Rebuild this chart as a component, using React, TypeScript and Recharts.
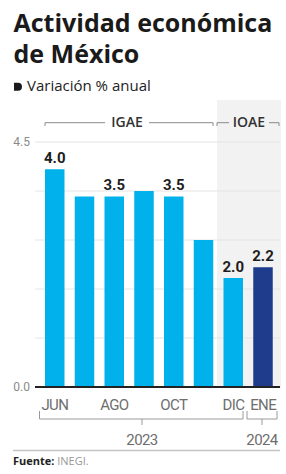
import React from 'react';
import { BarChart, Bar, XAxis, YAxis, CartesianGrid, Cell, LabelList } from 'recharts';

const months = ['JUN', 'JUL', 'AGO', 'SEP', 'OCT', 'NOV', 'DIC', 'ENE'];
const values = [4.0, 3.5, 3.5, 3.6, 3.5, 2.7, 2.0, 2.2];
const valueLabels = ['4.0', '', '3.5', '', '3.5', '', '2.0', '2.2'];
const shownMonths = ['JUN', 'AGO', 'OCT', 'DIC', 'ENE'];
const barColors = ['#00b1eb', '#00b1eb', '#00b1eb', '#00b1eb', '#00b1eb', '#00b1eb', '#00b1eb', '#1f3c8c'];
const yTicks = [0, 0.9, 1.8, 2.7, 3.6, 4.5];
const yTickLabels = ['0.0', '', '', '', '', '4.5'];
const yearLabels = ['2023', '2024'];
const groupLabels = ['IGAE', 'IOAE'];

const data = months.map((m, i) => ({ month: m, value: values[i], label: valueLabels[i] }));

const XTick = (props: any) => {
  const { x, y, payload } = props;
  const show = shownMonths.includes(payload.value);
  if (!show) return null;
  return (
    <text x={x} y={y} dy={15} textAnchor="middle" fontFamily="Roboto" fontSize={15} fill="#6e6e6e" letterSpacing={-0.6}>
      {payload.value}
    </text>
  );
};

const ValueLabel = (props: any) => {
  const { x, y, width, index } = props;
  const t = valueLabels[index];
  if (!t) return null;
  return (
    <text x={x + width / 2} y={y - 6} textAnchor="middle" fontFamily="Roboto" fontWeight={700} fontSize={15} fill="#1e1e1e">
      {t}
    </text>
  );
};

export default function App() {
  return (
    <div style={{ position: 'absolute', left: 0, top: 0, width: 286, height: 474, background: '#ffffff', overflow: 'hidden' }}>
      <div style={{ position: 'absolute', left: 217, top: 100, width: 64, height: 288, background: '#f2f2f2' }} />
      <div style={{ position: 'absolute', left: 0, top: 0 }}>
        <BarChart width={286} height={474} data={data} margin={{ top: 142, right: 6, bottom: 57, left: 0 }}>
          <CartesianGrid vertical={false} stroke="#e4e4e4" strokeWidth={1} />
          <YAxis
            width={35}
            domain={[0, 4.5]}
            ticks={yTicks}
            interval={0}
            axisLine={false}
            tickLine={false}
            tickSize={3}
            tickMargin={2}
            tickFormatter={(v: number, i: number) => yTickLabels[i]}
            tick={{ fontFamily: 'Roboto', fontSize: 12, fill: '#8a8a8a' }}
          />
          <XAxis
            dataKey="month"
            height={30}
            interval={0}
            padding={{ left: 5, right: 2 }}
            axisLine={{ stroke: '#222222', strokeWidth: 2 }}
            tickLine={false}
            tick={<XTick />}
          />
          <Bar dataKey="value" barSize={19.5} isAnimationActive={false}>
            {data.map((d, i) => (
              <Cell key={d.month} fill={barColors[i]} />
            ))}
            <LabelList dataKey="label" content={<ValueLabel />} />
          </Bar>
        </BarChart>
      </div>
      <svg width={286} height={474} style={{ position: 'absolute', left: 0, top: 0, pointerEvents: 'none' }}>
        <text x={13.5} y={31.7} fontFamily="Open Sans" fontWeight={700} fontSize={25} fill="#1a1a1a">Actividad económica</text>
        <text x={13.5} y={63.3} fontFamily="Open Sans" fontWeight={700} fontSize={25} fill="#1a1a1a">de México</text>
        <path d="M14,82.7 h4 a4,4 0 0 1 0,8 h-4 z" fill="#1a1a1a" />
        <text x={27} y={90.7} fontFamily="Open Sans" fontSize={15} fill="#222">Variación % anual</text>

        <g stroke="#8a8a8a" strokeWidth={1} fill="none">
          <path d="M45,126 V122.7 H105" />
          <path d="M149,122.7 H213 V126" />
          <path d="M217,126 V122.7 H229" />
          <path d="M269,122.7 H279 V126" />
        </g>
        <text x={127} y={126.7} textAnchor="middle" fontFamily="Open Sans" fontWeight={600} fontSize={14} fill="#333">{groupLabels[0]}</text>
        <text x={249} y={126.7} textAnchor="middle" fontFamily="Open Sans" fontWeight={600} fontSize={14} fill="#333">{groupLabels[1]}</text>

        <g stroke="#9a9a9a" strokeWidth={1} fill="none">
          <path d="M39.5,411 V419 H243 V411" />
          <path d="M142,419 V425" />
          <path d="M247,411 V419 H277 V411" />
          <path d="M262,419 V425" />
        </g>
        <text x={142} y={445} textAnchor="middle" fontFamily="Roboto" fontSize={15} fill="#6e6e6e" letterSpacing={-0.6}>{yearLabels[0]}</text>
        <text x={262} y={445} textAnchor="middle" fontFamily="Roboto" fontSize={15} fill="#6e6e6e" letterSpacing={-0.6}>{yearLabels[1]}</text>

        <line x1={13} x2={280} y1={450.5} y2={450.5} stroke="#c4c4c4" strokeWidth={1.5} />
        <text x={13} y={465} fontFamily="Open Sans" fontSize={11} fill="#999">
          <tspan fontWeight={700} fill="#222">Fuente:</tspan> INEGI.
        </text>
      </svg>
    </div>
  );
}
